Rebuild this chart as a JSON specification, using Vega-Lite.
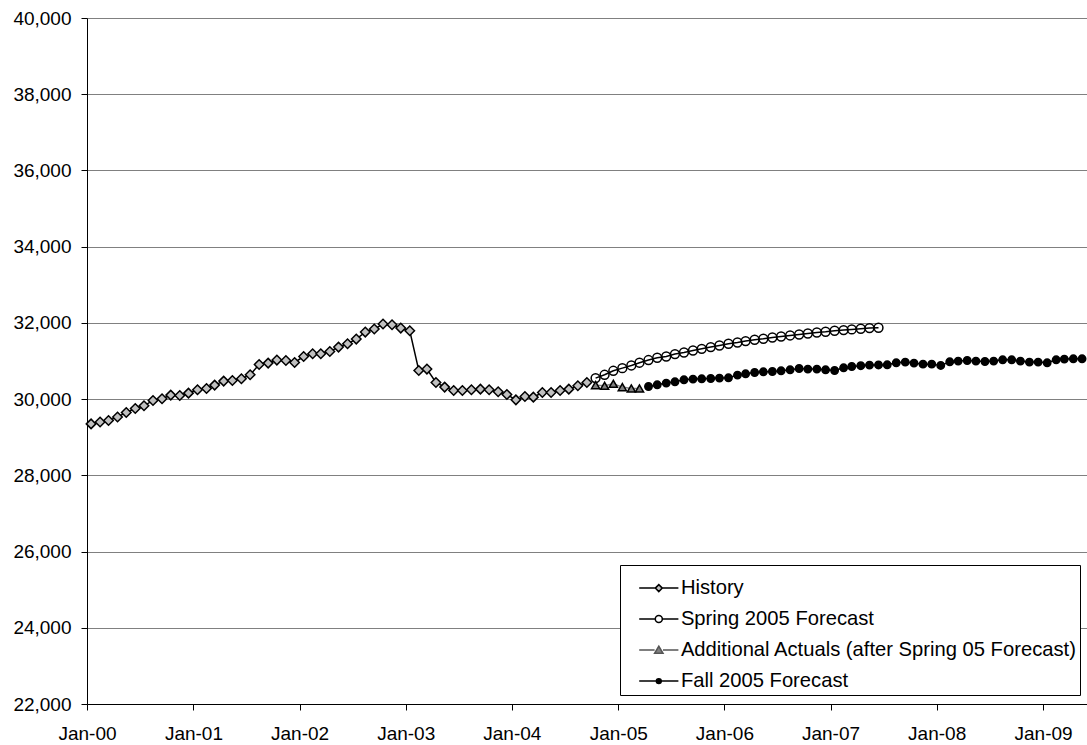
{
  "$schema": "https://vega.github.io/schema/vega-lite/v6.json",
  "width": 1000,
  "height": 686,
  "autosize": {"type": "none"},
  "padding": {"left": 87, "top": 18, "right": 0, "bottom": 41},
  "background": "white",
  "config": {"view": {"stroke": null}, "font": "Liberation Sans"},
  "data": {"values": [
    {"series": "History", "date": "2000-01-15", "value": 29350},
    {"series": "History", "date": "2000-02-15", "value": 29400},
    {"series": "History", "date": "2000-03-15", "value": 29440},
    {"series": "History", "date": "2000-04-15", "value": 29530},
    {"series": "History", "date": "2000-05-15", "value": 29650},
    {"series": "History", "date": "2000-06-15", "value": 29755},
    {"series": "History", "date": "2000-07-15", "value": 29825},
    {"series": "History", "date": "2000-08-15", "value": 29965},
    {"series": "History", "date": "2000-09-15", "value": 30008},
    {"series": "History", "date": "2000-10-15", "value": 30105},
    {"series": "History", "date": "2000-11-15", "value": 30095},
    {"series": "History", "date": "2000-12-15", "value": 30157},
    {"series": "History", "date": "2001-01-15", "value": 30244},
    {"series": "History", "date": "2001-02-15", "value": 30279},
    {"series": "History", "date": "2001-03-15", "value": 30367},
    {"series": "History", "date": "2001-04-15", "value": 30472},
    {"series": "History", "date": "2001-05-15", "value": 30490},
    {"series": "History", "date": "2001-06-15", "value": 30533},
    {"series": "History", "date": "2001-07-15", "value": 30638},
    {"series": "History", "date": "2001-08-15", "value": 30908},
    {"series": "History", "date": "2001-09-15", "value": 30945},
    {"series": "History", "date": "2001-10-15", "value": 31024},
    {"series": "History", "date": "2001-11-15", "value": 31013},
    {"series": "History", "date": "2001-12-15", "value": 30961},
    {"series": "History", "date": "2002-01-15", "value": 31118},
    {"series": "History", "date": "2002-02-15", "value": 31189},
    {"series": "History", "date": "2002-03-15", "value": 31189},
    {"series": "History", "date": "2002-04-15", "value": 31250},
    {"series": "History", "date": "2002-05-15", "value": 31365},
    {"series": "History", "date": "2002-06-15", "value": 31452},
    {"series": "History", "date": "2002-07-15", "value": 31575},
    {"series": "History", "date": "2002-08-15", "value": 31759},
    {"series": "History", "date": "2002-09-15", "value": 31838},
    {"series": "History", "date": "2002-10-15", "value": 31969},
    {"series": "History", "date": "2002-11-15", "value": 31950},
    {"series": "History", "date": "2002-12-15", "value": 31864},
    {"series": "History", "date": "2003-01-15", "value": 31793},
    {"series": "History", "date": "2003-02-15", "value": 30751},
    {"series": "History", "date": "2003-03-15", "value": 30788},
    {"series": "History", "date": "2003-04-15", "value": 30436},
    {"series": "History", "date": "2003-05-15", "value": 30315},
    {"series": "History", "date": "2003-06-15", "value": 30226},
    {"series": "History", "date": "2003-07-15", "value": 30226},
    {"series": "History", "date": "2003-08-15", "value": 30244},
    {"series": "History", "date": "2003-09-15", "value": 30262},
    {"series": "History", "date": "2003-10-15", "value": 30244},
    {"series": "History", "date": "2003-11-15", "value": 30192},
    {"series": "History", "date": "2003-12-15", "value": 30121},
    {"series": "History", "date": "2004-01-15", "value": 29980},
    {"series": "History", "date": "2004-02-15", "value": 30069},
    {"series": "History", "date": "2004-03-15", "value": 30052},
    {"series": "History", "date": "2004-04-15", "value": 30174},
    {"series": "History", "date": "2004-05-15", "value": 30174},
    {"series": "History", "date": "2004-06-15", "value": 30226},
    {"series": "History", "date": "2004-07-15", "value": 30262},
    {"series": "History", "date": "2004-08-15", "value": 30349},
    {"series": "History", "date": "2004-09-15", "value": 30436},
    {"series": "Spring 2005 Forecast", "date": "2004-10-15", "value": 30551},
    {"series": "Spring 2005 Forecast", "date": "2004-11-15", "value": 30638},
    {"series": "Spring 2005 Forecast", "date": "2004-12-15", "value": 30743},
    {"series": "Spring 2005 Forecast", "date": "2005-01-15", "value": 30813},
    {"series": "Spring 2005 Forecast", "date": "2005-02-15", "value": 30883},
    {"series": "Spring 2005 Forecast", "date": "2005-03-15", "value": 30955},
    {"series": "Spring 2005 Forecast", "date": "2005-04-15", "value": 31025},
    {"series": "Spring 2005 Forecast", "date": "2005-05-15", "value": 31085},
    {"series": "Spring 2005 Forecast", "date": "2005-06-15", "value": 31118},
    {"series": "Spring 2005 Forecast", "date": "2005-07-15", "value": 31181},
    {"series": "Spring 2005 Forecast", "date": "2005-08-15", "value": 31223},
    {"series": "Spring 2005 Forecast", "date": "2005-09-15", "value": 31276},
    {"series": "Spring 2005 Forecast", "date": "2005-10-15", "value": 31320},
    {"series": "Spring 2005 Forecast", "date": "2005-11-15", "value": 31365},
    {"series": "Spring 2005 Forecast", "date": "2005-12-15", "value": 31407},
    {"series": "Spring 2005 Forecast", "date": "2006-01-15", "value": 31452},
    {"series": "Spring 2005 Forecast", "date": "2006-02-15", "value": 31486},
    {"series": "Spring 2005 Forecast", "date": "2006-03-15", "value": 31522},
    {"series": "Spring 2005 Forecast", "date": "2006-04-15", "value": 31557},
    {"series": "Spring 2005 Forecast", "date": "2006-05-15", "value": 31583},
    {"series": "Spring 2005 Forecast", "date": "2006-06-15", "value": 31617},
    {"series": "Spring 2005 Forecast", "date": "2006-07-15", "value": 31643},
    {"series": "Spring 2005 Forecast", "date": "2006-08-15", "value": 31670},
    {"series": "Spring 2005 Forecast", "date": "2006-09-15", "value": 31696},
    {"series": "Spring 2005 Forecast", "date": "2006-10-15", "value": 31722},
    {"series": "Spring 2005 Forecast", "date": "2006-11-15", "value": 31748},
    {"series": "Spring 2005 Forecast", "date": "2006-12-15", "value": 31767},
    {"series": "Spring 2005 Forecast", "date": "2007-01-15", "value": 31793},
    {"series": "Spring 2005 Forecast", "date": "2007-02-15", "value": 31811},
    {"series": "Spring 2005 Forecast", "date": "2007-03-15", "value": 31828},
    {"series": "Spring 2005 Forecast", "date": "2007-04-15", "value": 31846},
    {"series": "Spring 2005 Forecast", "date": "2007-05-15", "value": 31864},
    {"series": "Spring 2005 Forecast", "date": "2007-06-15", "value": 31872},
    {"series": "Additional Actuals (after Spring 05 Forecast)", "date": "2004-10-15", "value": 30367},
    {"series": "Additional Actuals (after Spring 05 Forecast)", "date": "2004-11-15", "value": 30349},
    {"series": "Additional Actuals (after Spring 05 Forecast)", "date": "2004-12-15", "value": 30402},
    {"series": "Additional Actuals (after Spring 05 Forecast)", "date": "2005-01-15", "value": 30315},
    {"series": "Additional Actuals (after Spring 05 Forecast)", "date": "2005-02-15", "value": 30279},
    {"series": "Additional Actuals (after Spring 05 Forecast)", "date": "2005-03-15", "value": 30279},
    {"series": "Fall 2005 Forecast", "date": "2005-04-15", "value": 30331},
    {"series": "Fall 2005 Forecast", "date": "2005-05-15", "value": 30375},
    {"series": "Fall 2005 Forecast", "date": "2005-06-15", "value": 30420},
    {"series": "Fall 2005 Forecast", "date": "2005-07-15", "value": 30454},
    {"series": "Fall 2005 Forecast", "date": "2005-08-15", "value": 30507},
    {"series": "Fall 2005 Forecast", "date": "2005-09-15", "value": 30525},
    {"series": "Fall 2005 Forecast", "date": "2005-10-15", "value": 30533},
    {"series": "Fall 2005 Forecast", "date": "2005-11-15", "value": 30541},
    {"series": "Fall 2005 Forecast", "date": "2005-12-15", "value": 30551},
    {"series": "Fall 2005 Forecast", "date": "2006-01-15", "value": 30559},
    {"series": "Fall 2005 Forecast", "date": "2006-02-15", "value": 30630},
    {"series": "Fall 2005 Forecast", "date": "2006-03-15", "value": 30664},
    {"series": "Fall 2005 Forecast", "date": "2006-04-15", "value": 30698},
    {"series": "Fall 2005 Forecast", "date": "2006-05-15", "value": 30717},
    {"series": "Fall 2005 Forecast", "date": "2006-06-15", "value": 30725},
    {"series": "Fall 2005 Forecast", "date": "2006-07-15", "value": 30743},
    {"series": "Fall 2005 Forecast", "date": "2006-08-15", "value": 30769},
    {"series": "Fall 2005 Forecast", "date": "2006-09-15", "value": 30803},
    {"series": "Fall 2005 Forecast", "date": "2006-10-15", "value": 30787},
    {"series": "Fall 2005 Forecast", "date": "2006-11-15", "value": 30787},
    {"series": "Fall 2005 Forecast", "date": "2006-12-15", "value": 30769},
    {"series": "Fall 2005 Forecast", "date": "2007-01-15", "value": 30751},
    {"series": "Fall 2005 Forecast", "date": "2007-02-15", "value": 30822},
    {"series": "Fall 2005 Forecast", "date": "2007-03-15", "value": 30856},
    {"series": "Fall 2005 Forecast", "date": "2007-04-15", "value": 30877},
    {"series": "Fall 2005 Forecast", "date": "2007-05-15", "value": 30892},
    {"series": "Fall 2005 Forecast", "date": "2007-06-15", "value": 30896},
    {"series": "Fall 2005 Forecast", "date": "2007-07-15", "value": 30900},
    {"series": "Fall 2005 Forecast", "date": "2007-08-15", "value": 30953},
    {"series": "Fall 2005 Forecast", "date": "2007-09-15", "value": 30971},
    {"series": "Fall 2005 Forecast", "date": "2007-10-15", "value": 30945},
    {"series": "Fall 2005 Forecast", "date": "2007-11-15", "value": 30918},
    {"series": "Fall 2005 Forecast", "date": "2007-12-15", "value": 30918},
    {"series": "Fall 2005 Forecast", "date": "2008-01-15", "value": 30883},
    {"series": "Fall 2005 Forecast", "date": "2008-02-15", "value": 30979},
    {"series": "Fall 2005 Forecast", "date": "2008-03-15", "value": 30997},
    {"series": "Fall 2005 Forecast", "date": "2008-04-15", "value": 31013},
    {"series": "Fall 2005 Forecast", "date": "2008-05-15", "value": 30997},
    {"series": "Fall 2005 Forecast", "date": "2008-06-15", "value": 30987},
    {"series": "Fall 2005 Forecast", "date": "2008-07-15", "value": 30997},
    {"series": "Fall 2005 Forecast", "date": "2008-08-15", "value": 31032},
    {"series": "Fall 2005 Forecast", "date": "2008-09-15", "value": 31032},
    {"series": "Fall 2005 Forecast", "date": "2008-10-15", "value": 30997},
    {"series": "Fall 2005 Forecast", "date": "2008-11-15", "value": 30971},
    {"series": "Fall 2005 Forecast", "date": "2008-12-15", "value": 30971},
    {"series": "Fall 2005 Forecast", "date": "2009-01-15", "value": 30953},
    {"series": "Fall 2005 Forecast", "date": "2009-02-15", "value": 31032},
    {"series": "Fall 2005 Forecast", "date": "2009-03-15", "value": 31050},
    {"series": "Fall 2005 Forecast", "date": "2009-04-15", "value": 31058},
    {"series": "Fall 2005 Forecast", "date": "2009-05-15", "value": 31058}
  ]},
  "encoding": {
    "x": {
      "field": "date", "type": "temporal",
      "scale": {"domain": [{"year": 2000, "month": 1, "date": 1}, {"year": 2009, "month": 6, "date": 1}], "nice": false},
      "axis": {
        "title": null, "format": "%b-%y", "tickCount": {"interval": "year", "step": 1},
        "labelFontSize": 19, "labelFont": "Liberation Sans", "labelColor": "black",
        "labelPadding": 14, "tickSize": 6, "tickColor": "black", "domainColor": "black",
        "grid": false, "labelFlush": false, "labelOverlap": false
      }
    },
    "y": {
      "field": "value", "type": "quantitative",
      "scale": {"domain": [22000, 40000], "nice": false, "zero": false},
      "axis": {
        "title": null, "format": ",d",
        "values": [22000, 24000, 26000, 28000, 30000, 32000, 34000, 36000, 38000, 40000],
        "labelFontSize": 19, "labelFont": "Liberation Sans", "labelColor": "black",
        "labelPadding": 10, "tickSize": 6, "tickColor": "black", "domainColor": "black",
        "grid": true, "gridColor": "#808080", "gridWidth": 1
      }
    }
  },
  "layer": [
    {
      "mark": {"type": "line", "strokeWidth": 1.5},
      "encoding": {
        "detail": {"field": "series"},
        "stroke": {"field": "series", "type": "nominal",
          "scale": {"domain": ["History", "Spring 2005 Forecast", "Additional Actuals (after Spring 05 Forecast)", "Fall 2005 Forecast"], "range": ["black", "black", "#808080", "black"]},
          "legend": null}
      }
    },
    {
      "mark": {"type": "point", "filled": true, "opacity": 1, "strokeWidth": 1.5, "stroke": "black"},
      "encoding": {
        "shape": {"field": "series", "type": "nominal",
          "scale": {"domain": ["History", "Spring 2005 Forecast", "Additional Actuals (after Spring 05 Forecast)", "Fall 2005 Forecast"], "range": ["diamond", "circle", "triangle-up", "circle"]},
          "legend": null},
        "fill": {"field": "series", "type": "nominal",
          "scale": {"domain": ["History", "Spring 2005 Forecast", "Additional Actuals (after Spring 05 Forecast)", "Fall 2005 Forecast"], "range": ["#c0c0c0", "transparent", "#808080", "black"]},
          "legend": null},
        "size": {"field": "series", "type": "ordinal",
          "scale": {"domain": ["History", "Spring 2005 Forecast", "Additional Actuals (after Spring 05 Forecast)", "Fall 2005 Forecast"], "range": [90, 55, 180, 30]},
          "legend": null},
        "stroke": {"value": "black"}
      }
    },
    {
      "transform": [{"filter": "false"}],
      "mark": {"type": "point", "filled": true, "opacity": 1, "strokeWidth": 1.5},
      "encoding": {
        "shape": {"field": "series", "type": "nominal",
          "scale": {"domain": ["History", "Spring 2005 Forecast", "Additional Actuals (after Spring 05 Forecast)", "Fall 2005 Forecast"],
            "range": [
              "M-5.6,0L-1,0M0,-1L1,0L0,1L-1,0ZM1,0L5.6,0",
              "M-5.6,0L-1,0M-1,0A1,1,0,1,1,1,0A1,1,0,1,1,-1,0ZM1,0L5.6,0",
              "M-5.6,0L-1.2,0M0,-1.1L1.2,0.9L-1.2,0.9ZM1.2,0L5.6,0",
              "M-5.6,0L-0.7,0M-0.7,0A0.7,0.7,0,1,1,0.7,0A0.7,0.7,0,1,1,-0.7,0ZM0.7,0L5.6,0"
            ]},
          "legend": {
            "orient": "none", "legendX": 533, "legendY": 547, "title": " ", "titleFontSize": 1, "titlePadding": 9,
            "labelFontSize": 20.2, "labelFont": "Liberation Sans", "labelColor": "black", "labelLimit": 600,
            "symbolSize": 49, "symbolStrokeWidth": 1.5,
            "symbolOffset": 25.7, "labelOffset": 12, "rowPadding": 10, "padding": 3,
            "strokeColor": "black", "fillColor": "white"
          }},
        "fill": {"field": "series", "type": "nominal",
          "scale": {"domain": ["History", "Spring 2005 Forecast", "Additional Actuals (after Spring 05 Forecast)", "Fall 2005 Forecast"], "range": ["#c0c0c0", "white", "#808080", "black"]},
          "legend": {
            "orient": "none", "legendX": 533, "legendY": 547, "title": " ", "titleFontSize": 1, "titlePadding": 9,
            "labelFontSize": 20.2, "labelFont": "Liberation Sans", "labelColor": "black", "labelLimit": 600,
            "symbolSize": 49, "symbolStrokeWidth": 1.5,
            "symbolOffset": 25.7, "labelOffset": 12, "rowPadding": 10, "padding": 3,
            "strokeColor": "black", "fillColor": "white"
          }},
        "stroke": {"field": "series", "type": "nominal",
          "scale": {"domain": ["History", "Spring 2005 Forecast", "Additional Actuals (after Spring 05 Forecast)", "Fall 2005 Forecast"], "range": ["black", "black", "#555555", "black"]},
          "legend": {
            "orient": "none", "legendX": 533, "legendY": 547, "title": " ", "titleFontSize": 1, "titlePadding": 9,
            "labelFontSize": 20.2, "labelFont": "Liberation Sans", "labelColor": "black", "labelLimit": 600,
            "symbolSize": 49, "symbolStrokeWidth": 1.5,
            "symbolOffset": 25.7, "labelOffset": 12, "rowPadding": 10, "padding": 3,
            "strokeColor": "black", "fillColor": "white"
          }}
      }
    }
  ],
  "resolve": {"scale": {"shape": "independent", "fill": "independent", "size": "independent", "stroke": "independent"}}
}
